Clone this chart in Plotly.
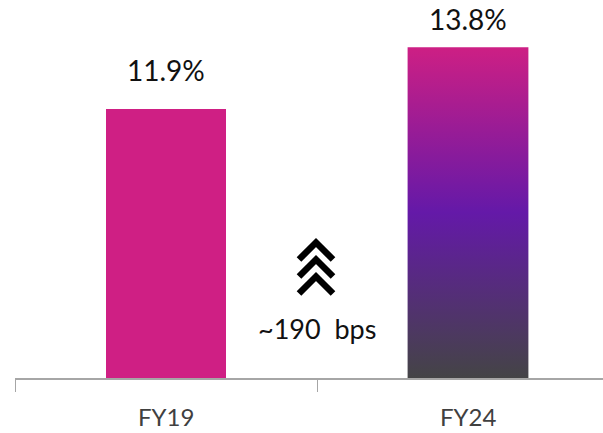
import plotly.graph_objects as go

categories = ["FY19", "FY24"]
values = [11.9, 13.8]
value_labels = ["11.9%", "13.8%"]
change_label = "~190\u00a0\u00a0bps"

Y_MIN = 3.65
Y_MAX = 15.25
BAR_HALF = 0.2
FONT = "Lato, Carlito, Calibri, sans-serif"
LABEL_SHIFTS = [20, 9]  # style: pixel offset of value labels above bars

fig = go.Figure()

# FY19 solid bar
fig.add_trace(go.Bar(
    x=[0], y=[values[0] - Y_MIN], base=[Y_MIN], width=[2 * BAR_HALF],
    marker=dict(color="#cf1f84", line=dict(width=0)),
    hoverinfo="skip", showlegend=False,
))

# FY24 gradient bar (filled polygon with vertical gradient)
xi = 1
v = values[1]
fig.add_trace(go.Scatter(
    x=[xi - BAR_HALF, xi + BAR_HALF, xi + BAR_HALF, xi - BAR_HALF, xi - BAR_HALF],
    y=[Y_MIN, Y_MIN, v, v, Y_MIN],
    mode="lines", line=dict(width=0, color="rgba(0,0,0,0)"),
    fill="toself",
    fillgradient=dict(
        type="vertical",
        colorscale=[[0, "#444446"], [0.5, "#6419a8"], [1, "#cd1f84"]],
        start=Y_MIN, stop=v,
    ),
    hoverinfo="skip", showlegend=False,
))

annotations = []
for i, (val, lab) in enumerate(zip(values, value_labels)):
    annotations.append(dict(
        x=i, y=val, xref="x", yref="y", text=lab, showarrow=False,
        yanchor="bottom", yshift=LABEL_SHIFTS[i],
        font=dict(family=FONT, size=28, color="#111111"),
    ))
for i, cat in enumerate(categories):
    annotations.append(dict(
        x=i, y=0, xref="x", yref="paper", text=cat, showarrow=False,
        yanchor="middle", yshift=-38,
        font=dict(family=FONT, size=24, color="#404040"),
    ))
annotations.append(dict(
    x=0.5, y=0.13, xref="x", yref="paper", text=change_label, showarrow=False,
    yanchor="middle", font=dict(family=FONT, size=27, color="#111111"),
))

chev = ("M -18 24 L -1 41 L 16 24 "
        "M -18 7 L -1 24 L 16 7 "
        "M -18 -10 L -1 7 L 16 -10")
shapes = [dict(
    type="path", xref="x", yref="paper",
    xsizemode="pixel", ysizemode="pixel",
    xanchor=0.5, yanchor=0.25,
    path=chev, line=dict(color="black", width=6.5),
)]

fig.update_layout(
    width=603, height=433,
    margin=dict(l=15, r=0, t=0, b=55),
    paper_bgcolor="white", plot_bgcolor="white",
    annotations=annotations, shapes=shapes,
    xaxis=dict(
        range=[-0.5, -0.5 + 588 / 302],
        tickvals=[-0.5, 0.5, 1.5], ticktext=["", "", ""],
        ticks="outside", ticklen=12, tickcolor="#a6a6a6", tickwidth=1.3,
        showline=True, linecolor="#a6a6a6", linewidth=1.5,
        showgrid=False, zeroline=False, fixedrange=True,
    ),
    yaxis=dict(
        range=[Y_MIN, Y_MAX], visible=False, showgrid=False, zeroline=False,
    ),
    bargap=0,
)

fig.write_html("out.html")
